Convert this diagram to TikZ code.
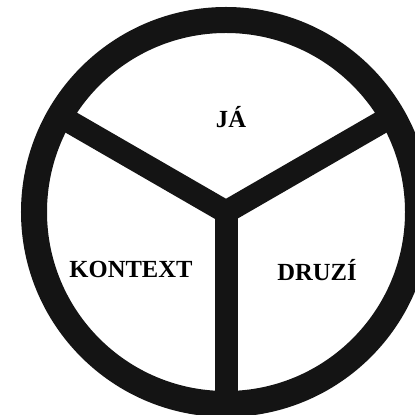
\documentclass[tikz,border=0pt]{standalone}
\usepackage{fontspec}
\setmainfont{Liberation Serif}
\usepackage{tikz}
\usetikzlibrary{calc}

\tikzset{
  ring/.style={line width=0.65cm, black!92},
  spoke/.style={line width=0.575cm, black!92},
  label/.style={font=\bfseries\fontsize{17.5}{20}\selectfont}
}

\begin{document}
\begin{tikzpicture}
    \useasboundingbox (-5.65,-5.075) rectangle (4.725,5.3);
    \clip (-5.65,-5.075) rectangle (4.725,5.3);
    \coordinate (c) at (0,0);
    \coordinate (rimL) at (150:4.8);
    \coordinate (rimR) at (30:4.8);
    \coordinate (rimB) at (270:4.8);
    \draw[spoke] (c) -- (rimL);
    \draw[spoke] (c) -- (rimR);
    \draw[spoke] (c) -- (rimB);
    \draw[ring] (c) circle (4.8);
    \node[label] (ja) at (0.125,2.375) {JÁ};
    \node[label] (kontext) at (-2.375,-1.425) {KONTEXT};
    \node[label] (druzi) at (2.275,-1.45) {DRUZÍ};
\end{tikzpicture}
\end{document}
